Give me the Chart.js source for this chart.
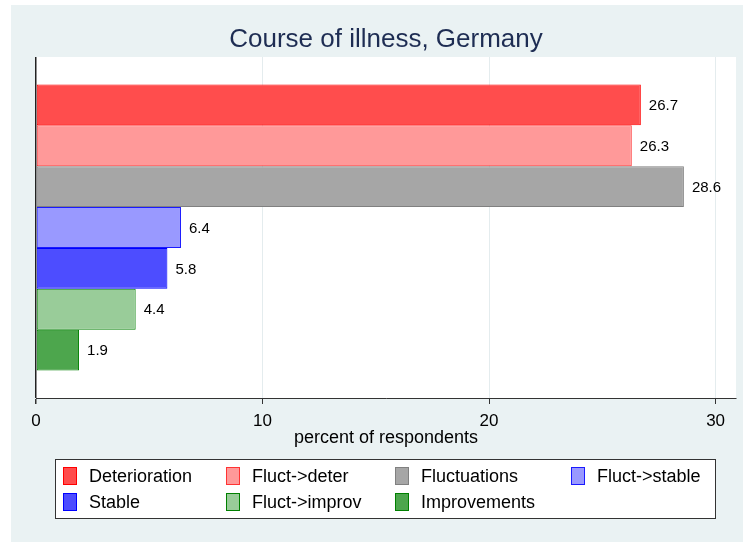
<!DOCTYPE html>
<html>
<head>
<meta charset="utf-8">
<script src="https://cdn.jsdelivr.net/npm/chart.js@4.4.0/dist/chart.umd.min.js"></script>
<style>
  html, body { margin: 0; padding: 0; background: #ffffff; }
  #wrap { width: 743px; height: 542px; position: relative; }
</style>
</head>
<body>
<div id="wrap"><canvas id="chart" width="743" height="542"></canvas></div>
<script>
// data
var categories = ['Deterioration', 'Fluct->deter', 'Fluctuations', 'Fluct->stable', 'Stable', 'Fluct->improv', 'Improvements'];
var percents = [26.7, 26.3, 28.6, 6.4, 5.8, 4.4, 1.9];
var xTicks = [0, 10, 20, 30];

var fillColors = ['#FF4D4D', '#FF9999', '#A6A6A6', '#9999FF', '#4D4DFF', '#99CC99', '#4DA64D'];
var borderColors = ['#FF0000', '#FF3333', '#808080', '#1A1AFF', '#0000FF', '#008000', '#008000'];

var FONT = '"Liberation Sans", Arial, Helvetica, sans-serif';
var BG = '#EAF2F3';

// one dataset per category so every bar gets its own legend key
var datasets = categories.map(function(name, i){
    return {
        label: name,
        data: [percents[i]],
        backgroundColor: fillColors[i],
        borderColor: borderColors[i],
        borderWidth: 1,
        borderSkipped: false,
        barPercentage: 1,
        categoryPercentage: 0.839
    };
});

// light blue page background + white plot region
var backdrop = {
    id: 'backdrop',
    beforeDraw: function(chart){
        var ctx = chart.ctx, a = chart.chartArea;
        ctx.save();
        ctx.fillStyle = '#ffffff';
        ctx.fillRect(0, 0, chart.width, chart.height);
        ctx.fillStyle = BG;
        ctx.fillRect(11, 5, chart.width - 11, chart.height - 5);
        ctx.fillStyle = '#ffffff';
        ctx.fillRect(a.left, a.top, a.right - a.left, a.bottom - a.top);
        ctx.restore();
    }
};

// numbers printed at the end of each bar
var barValues = {
    id: 'barValues',
    afterDatasetsDraw: function(chart){
        var ctx = chart.ctx;
        ctx.save();
        ctx.font = '15px ' + FONT;
        ctx.fillStyle = '#000000';
        ctx.textBaseline = 'middle';
        ctx.textAlign = 'left';
        chart.data.datasets.forEach(function(ds, i){
            var bar = chart.getDatasetMeta(i).data[0];
            ctx.fillText(ds.data[0].toFixed(1), bar.x + 8, bar.y + 1);
        });
        ctx.restore();
    }
};

// boxed legend in 4 aligned columns, like the original
var boxLegend = {
    id: 'boxLegend',
    afterDraw: function(chart){
        var ctx = chart.ctx;
        var colX = [63, 226, 395, 571];
        var rowY = [476, 502];
        ctx.save();
        ctx.fillStyle = '#ffffff';
        ctx.fillRect(55.5, 459.5, 660, 59);
        ctx.strokeStyle = '#333333';
        ctx.lineWidth = 1;
        ctx.strokeRect(55.5, 459.5, 660, 59);
        ctx.font = '18px ' + FONT;
        ctx.textBaseline = 'middle';
        chart.data.datasets.forEach(function(ds, i){
            var x = colX[i % 4], y = rowY[Math.floor(i / 4)];
            ctx.fillStyle = ds.backgroundColor;
            ctx.fillRect(x, y - 9, 14, 18);
            ctx.strokeStyle = ds.borderColor;
            ctx.strokeRect(x + 0.5, y - 8.5, 13, 17);
            ctx.fillStyle = '#000000';
            ctx.fillText(ds.label, x + 26, y + 1);
        });
        ctx.restore();
    }
};

new Chart(document.getElementById('chart'), {
    type: 'bar',
    data: { labels: [''], datasets: datasets },
    plugins: [backdrop, barValues, boxLegend],
    options: {
        indexAxis: 'y',
        responsive: false,
        animation: false,
        layout: { padding: { left: 36, right: 7, top: 5, bottom: 95 } },
        plugins: {
            legend: { display: false },
            tooltip: { enabled: false },
            title: {
                display: true,
                text: 'Course of illness, Germany',
                color: '#1E2D53',
                font: { family: FONT, size: 26, weight: 'normal' },
                padding: { top: 19.4, bottom: 1.4 }
            }
        },
        scales: {
            y: { display: false },
            x: {
                min: 0,
                max: 30.9,
                afterBuildTicks: function(axis){
                    axis.ticks = xTicks.map(function(v){ return { value: v }; });
                },
                grid: {
                    color: function(c){ return c.tick && c.tick.value === 0 ? '#222222' : '#E4ECEE'; },
                    lineWidth: function(c){ return c.tick && c.tick.value === 0 ? 1.5 : 1; },
                    tickColor: '#333333',
                    tickLength: 6,
                    drawTicks: true
                },
                border: { display: true, color: '#333333', width: 1 },
                ticks: {
                    color: '#000000',
                    padding: 8.5,
                    font: { family: FONT, size: 17, lineHeight: 1 },
                    callback: function(v){ return v; }
                },
                title: {
                    display: true,
                    text: 'percent of respondents',
                    color: '#000000',
                    font: { family: FONT, size: 18, lineHeight: 1 },
                    padding: { top: -9, bottom: 0 }
                }
            }
        }
    }
});
</script>
</body>
</html>
